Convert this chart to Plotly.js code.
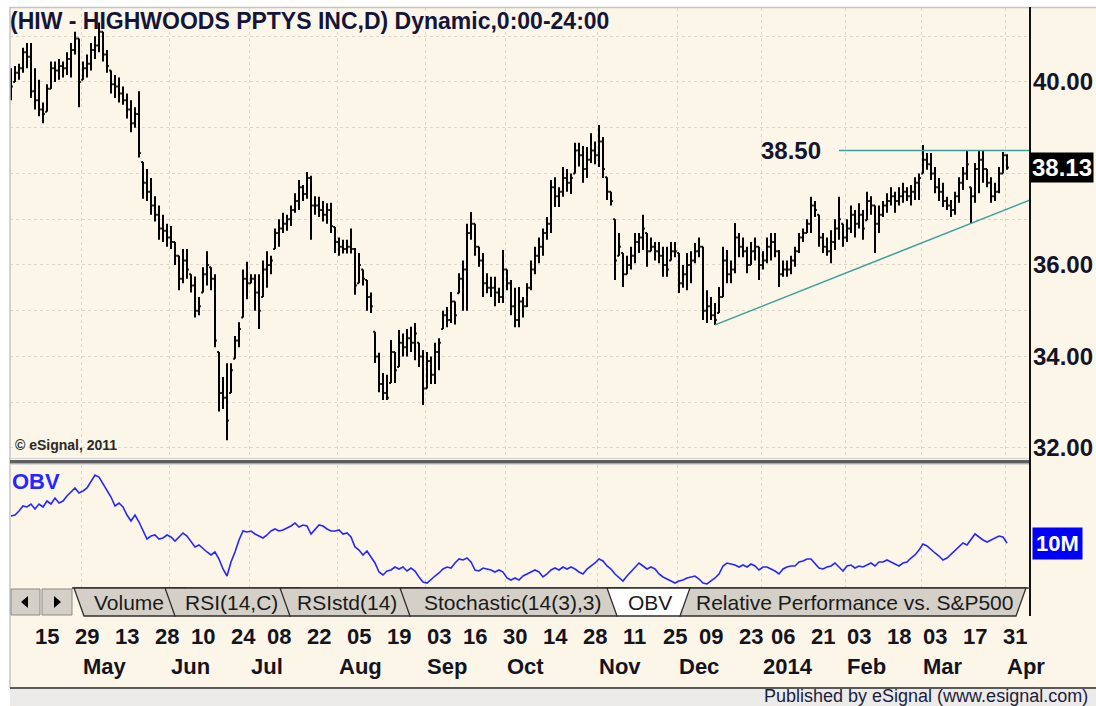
<!DOCTYPE html>
<html>
<head>
<meta charset="utf-8">
<script src="https://cdn.plot.ly/plotly-3.0.1.min.js"></script>
<style>html,body{margin:0;padding:0;background:#fff;}#chart{width:1096px;height:706px;}</style>
</head>
<body>
<div id="chart"></div>
<script>
// ---------------- DATA ----------------
const firstBarDate = '2013-04-05';
const holidays = ['2013-05-27','2013-07-04','2013-09-02','2013-11-28','2013-12-25','2014-01-01','2014-01-20','2014-02-17'];

const highs = [
40.30,40.35,40.40,40.75,40.85,40.85,40.30,40.05,39.55,39.95,
40.45,40.45,40.50,40.45,40.65,40.85,41.10,40.95,40.45,40.60,
40.85,41.00,41.30,41.10,40.70,40.25,40.15,40.10,39.90,39.75,
39.60,39.45,39.80,38.25,38.10,37.90,37.50,37.30,37.10,36.90,
36.85,36.50,36.20,36.35,36.35,35.80,35.75,35.30,35.95,36.30,
35.95,35.80,34.10,33.55,33.85,33.85,34.45,34.75,35.90,36.07,
35.80,35.80,35.80,36.10,36.30,36.20,36.80,37.00,37.14,37.10,
37.30,37.57,37.86,37.75,38.03,37.95,37.50,37.49,37.40,37.35,
37.36,36.83,36.60,36.55,36.55,36.80,36.37,36.26,35.90,35.67,
35.40,34.54,34.08,33.64,33.60,34.36,34.10,34.58,34.50,34.60,
34.65,34.73,34.30,34.14,34.10,34.00,34.30,34.40,35.00,35.08,
35.41,35.20,35.82,36.10,36.90,37.16,36.90,36.40,36.26,35.82,
35.74,35.74,35.50,36.33,35.90,35.67,35.50,35.52,35.30,35.60,
36.10,36.40,36.60,36.80,37.05,37.86,37.92,37.70,38.14,38.10,
38.00,38.67,38.67,38.60,38.58,38.88,38.70,39.06,38.80,37.92,
37.60,37.00,36.70,36.26,36.20,36.40,36.70,36.70,37.10,36.70,
36.60,36.50,36.50,36.40,36.40,36.50,36.50,36.26,36.00,36.26,
36.30,36.48,36.60,36.40,35.45,35.30,35.17,35.52,36.40,36.33,
36.10,36.92,36.70,36.60,36.40,36.50,36.60,36.40,36.30,36.60,
36.70,36.70,36.33,36.10,36.10,36.20,36.40,36.70,36.80,37.00,
37.49,37.40,37.10,36.70,36.60,36.76,37.00,37.49,36.90,37.00,
37.30,37.20,37.35,37.20,37.60,37.50,37.30,37.30,37.40,37.57,
37.70,37.60,37.70,37.80,37.70,37.75,37.92,38.00,38.62,38.45,
38.45,38.14,37.90,37.80,37.49,37.42,37.60,37.92,38.14,38.50,
37.70,38.23,38.50,38.50,38.10,37.92,37.80,38.14,38.47,38.42];

const lows = [
39.60,40.00,40.05,40.20,40.30,39.65,39.40,39.25,39.10,39.35,
39.85,40.00,40.05,40.10,40.15,40.10,40.60,39.45,40.05,40.10,
40.25,40.50,40.65,40.45,40.20,39.75,39.65,39.55,39.50,39.20,
38.90,39.00,38.35,37.45,37.40,37.10,36.95,36.55,36.50,36.40,
36.35,36.00,35.45,35.60,35.70,35.40,34.85,34.90,35.40,35.55,
35.45,34.20,32.80,32.85,32.17,33.20,33.95,34.20,34.85,35.25,
35.60,35.00,34.60,35.30,35.50,35.80,36.35,36.40,36.70,36.75,
36.85,37.14,37.20,37.40,37.45,36.55,37.10,37.05,36.95,36.90,
36.70,36.26,36.20,36.25,36.25,36.25,35.35,35.60,35.55,35.00,
34.95,33.86,33.22,33.05,33.05,33.42,33.42,33.77,34.00,34.00,
34.10,33.92,33.77,32.94,33.30,33.40,33.40,33.70,34.60,34.64,
34.73,34.70,35.38,35.00,35.00,36.55,36.20,35.96,35.30,35.38,
35.30,35.10,35.17,35.17,35.45,34.90,34.64,34.64,34.85,35.08,
35.45,35.80,36.04,36.20,36.55,36.70,37.27,37.27,37.49,37.60,
37.55,38.00,38.15,37.80,37.90,38.23,38.20,38.14,37.90,37.42,
37.30,35.67,36.20,35.52,35.80,35.90,36.04,36.26,36.33,35.96,
36.30,36.10,36.04,35.74,35.74,36.10,36.17,35.39,35.50,35.45,
35.60,36.04,36.17,34.80,34.73,34.80,34.69,34.95,35.30,35.60,
35.60,35.82,36.17,36.17,35.82,36.00,36.10,35.67,35.90,36.04,
36.10,36.17,35.52,35.74,35.74,35.80,35.96,36.26,36.50,36.70,
36.70,37.05,36.40,36.26,36.20,36.04,36.33,36.55,36.40,36.50,
36.70,36.60,36.80,36.55,36.98,37.10,36.26,36.70,37.05,37.14,
37.30,37.14,37.30,37.36,37.40,37.30,37.42,37.42,38.00,38.08,
37.86,37.57,37.40,37.27,37.20,37.05,37.10,37.36,37.64,37.86,
36.92,37.36,37.57,37.80,37.70,37.36,37.40,37.57,38.00,38.08];

const opens = [
40.10,40.00,40.20,40.30,40.65,40.55,39.80,39.60,39.40,39.35,
39.85,40.30,40.25,40.35,40.30,40.50,40.70,40.95,40.05,40.30,
40.40,40.70,40.80,41.10,40.60,40.25,39.95,39.90,39.75,39.60,
39.40,39.10,39.30,38.25,37.80,37.60,37.30,37.10,36.80,36.75,
36.60,36.50,36.20,35.70,36.10,35.80,35.55,35.00,35.40,35.80,
35.95,35.70,34.10,33.20,33.10,33.20,33.95,34.35,34.85,35.70,
35.60,35.70,35.40,35.30,35.90,36.00,36.35,36.70,36.80,36.90,
37.00,37.20,37.40,37.70,37.55,37.90,37.30,37.30,37.20,37.10,
37.20,36.83,36.50,36.40,36.35,36.40,36.35,35.60,35.90,35.67,
35.30,34.54,34.00,33.40,33.20,33.42,34.10,33.77,34.30,34.20,
34.40,34.30,34.30,34.00,33.30,33.90,33.60,34.10,34.60,34.90,
34.80,35.20,35.38,35.70,35.90,36.70,36.90,36.40,36.10,35.60,
35.50,35.50,35.40,35.30,35.90,35.60,35.10,34.80,35.20,35.10,
35.50,35.90,36.20,36.40,36.70,36.90,37.70,37.50,37.60,37.90,
37.80,38.00,38.50,38.40,38.10,38.30,38.50,38.40,38.70,37.92,
37.60,37.00,36.20,36.26,35.80,36.00,36.20,36.50,36.60,36.70,
36.30,36.40,36.30,36.20,36.00,36.10,36.30,36.26,35.60,35.80,
36.00,36.10,36.30,36.40,35.00,35.10,34.90,34.95,35.30,36.10,
35.80,35.90,36.60,36.40,36.30,36.00,36.30,36.40,36.00,36.10,
36.40,36.50,36.30,35.80,35.90,35.90,36.10,36.30,36.60,36.70,
36.90,37.30,37.10,36.60,36.40,36.30,36.50,36.80,36.90,36.60,
36.80,37.10,36.90,37.10,36.98,37.40,37.30,36.90,37.10,37.30,
37.40,37.50,37.40,37.50,37.60,37.50,37.60,37.80,38.00,38.30,
38.20,38.00,37.70,37.60,37.40,37.30,37.20,37.50,37.80,38.00,
37.70,37.50,38.10,38.30,38.10,37.80,37.50,37.60,38.00,38.40];

const closes = [
39.90,40.20,40.30,40.65,40.55,39.80,39.60,39.40,39.30,39.85,
40.30,40.25,40.35,40.30,40.50,40.70,40.95,40.00,40.30,40.40,
40.70,40.80,41.10,40.60,40.35,39.95,39.90,39.75,39.60,39.40,
39.10,39.30,38.45,37.80,37.60,37.30,37.10,36.80,36.75,36.60,
36.50,36.20,35.70,36.10,35.90,35.55,35.00,35.10,35.80,36.00,
35.70,34.35,33.20,33.10,32.60,33.70,34.35,34.60,35.70,35.60,
35.70,35.40,35.00,35.90,36.00,36.10,36.70,36.80,36.90,37.00,
37.20,37.40,37.70,37.55,37.90,37.30,37.30,37.20,37.10,37.20,
36.85,36.50,36.40,36.35,36.40,36.35,35.55,36.00,35.70,35.30,
35.10,34.00,33.40,33.20,33.10,34.10,33.70,34.30,34.20,34.40,
34.30,34.50,34.00,33.30,33.90,33.60,34.10,34.30,34.90,34.80,
35.20,34.90,35.70,35.90,36.70,36.90,36.40,36.10,35.60,35.50,
35.50,35.40,35.30,35.90,35.60,35.10,34.80,35.20,35.10,35.50,
35.90,36.20,36.40,36.70,36.90,37.70,37.50,37.60,37.90,37.80,
37.90,38.50,38.40,38.10,38.30,38.50,38.40,38.70,38.10,37.60,
37.40,36.10,36.40,35.80,36.00,36.20,36.50,36.60,36.80,36.30,
36.40,36.30,36.20,36.00,35.90,36.30,36.30,35.60,35.80,36.00,
36.10,36.30,36.40,35.00,35.10,34.90,34.80,35.30,36.10,35.80,
35.90,36.60,36.40,36.30,36.00,36.30,36.40,36.00,36.10,36.40,
36.50,36.30,35.80,35.90,35.90,36.10,36.30,36.60,36.70,36.90,
37.30,37.20,36.60,36.40,36.30,36.50,36.80,37.00,36.60,36.80,
37.10,36.90,37.10,36.80,37.40,37.30,36.90,37.10,37.30,37.40,
37.50,37.40,37.50,37.60,37.50,37.60,37.80,37.90,38.30,38.20,
38.00,37.70,37.60,37.40,37.30,37.20,37.50,37.80,38.00,38.20,
37.50,38.10,38.30,38.10,37.80,37.50,37.60,38.00,38.40,38.13];

// On Balance Volume, millions
const obv = [
12.8,12.9,13.3,13.8,13.7,14.0,13.5,14.0,13.7,14.3,
14.0,14.6,14.1,14.3,14.8,15.2,15.6,15.1,15.3,15.6,
16.2,16.9,16.7,16.0,15.4,14.7,13.8,14.1,13.7,12.9,
12.3,12.9,12.2,11.3,10.5,10.8,10.9,10.5,10.6,10.9,
10.7,10.3,10.7,11.1,10.8,10.3,9.7,9.9,9.5,9.2,
8.9,9.2,8.5,7.5,6.8,8.2,9.2,10.4,11.3,11.2,
11.3,11.0,10.8,10.6,10.9,11.3,11.5,11.3,11.4,11.6,
11.8,12.1,11.7,11.9,11.8,11.0,11.4,11.9,11.8,11.5,
11.3,11.3,11.4,11.0,11.1,10.7,9.7,9.4,8.9,9.3,
8.7,8.1,7.2,6.9,7.3,7.4,7.7,7.5,7.7,7.3,
7.6,7.3,6.7,6.2,6.1,6.5,6.8,7.1,7.5,7.7,
7.6,8.1,8.5,8.4,8.6,8.2,7.4,7.3,7.6,7.5,
7.4,7.2,7.4,7.2,6.6,6.4,6.6,6.4,6.8,7.0,
7.2,7.4,7.2,6.7,7.0,7.4,7.6,7.4,7.7,7.5,
7.7,7.5,7.2,7.0,7.5,7.8,8.1,8.5,8.3,7.8,
7.5,7.0,6.6,6.3,6.8,7.2,7.7,8.1,7.8,7.5,
7.7,7.5,7.0,6.7,6.5,6.3,6.1,6.3,6.4,6.6,
6.7,6.8,6.5,6.1,6.0,6.3,6.6,7.0,7.8,8.1,
8.0,7.9,7.7,7.9,7.7,8.0,7.8,7.4,7.7,7.7,
7.5,7.3,7.0,7.5,7.7,7.8,7.8,8.2,8.3,8.5,
8.5,8.0,7.6,7.5,7.7,7.8,8.1,7.7,7.3,7.8,
7.9,7.6,7.8,7.7,7.9,8.1,7.8,8.2,8.2,8.4,
8.2,8.0,7.8,8.1,8.2,8.6,8.9,9.4,10.0,9.8,
9.4,9.1,8.8,8.4,8.6,9.0,9.4,9.8,10.1,9.9,
10.5,11.0,10.7,10.4,10.2,10.4,10.6,10.8,10.7,10.1];

// drawn lines: resistance level and rising support trendline
const resistanceLevel = 38.50;
const resistanceDates = ['2014-01-30', '2014-04-09'];
const trendDates = ['2013-12-13', '2014-04-09'];
const trendPrices = [34.69, 37.43];

// axis labels
const priceTicks = [32, 34, 36, 40];
const dayTickDates = ['2013-04-15','2013-04-29','2013-05-13','2013-05-28','2013-06-10','2013-06-24','2013-07-08','2013-07-22','2013-08-05','2013-08-19','2013-09-03','2013-09-16','2013-09-30','2013-10-14','2013-10-28','2013-11-11','2013-11-25','2013-12-09','2013-12-23','2014-01-06','2014-01-21','2014-02-03','2014-02-18','2014-03-03','2014-03-17','2014-03-31'];
const monthKeys = ['2013-05','2013-06','2013-07','2013-08','2013-09','2013-10','2013-11','2013-12','2014-01','2014-02','2014-03','2014-04'];
const monthLabels = ['May','Jun','Jul','Aug','Sep','Oct','Nov','Dec','2014','Feb','Mar','Apr'];
const tabLabels = ['Volume','RSI(14,C)','RSIstd(14)','Stochastic(14(3),3)','OBV','Relative Performance vs. S&P500'];
const titleText = '(HIW - HIGHWOODS PPTYS INC,D) Dynamic,0:00-24:00';

// ---------------- calendar of trading days ----------------
function tradingDays(start, end, hol) {
  const out = []; const d = new Date(start + 'T00:00:00Z'); const e = new Date(end + 'T00:00:00Z');
  while (d <= e) { const wd = d.getUTCDay(); const s = d.toISOString().slice(0, 10);
    if (wd !== 0 && wd !== 6 && hol.indexOf(s) < 0) out.push(s); d.setUTCDate(d.getUTCDate() + 1); }
  return out;
}
const days = tradingDays('2013-04-03', '2014-04-30', holidays);
const idx = s => days.indexOf(s);
const i0 = idx(firstBarDate);
const xs = closes.map((_, k) => i0 + k);
const monthBounds = monthKeys.map(k => days.findIndex(d => d.startsWith(k)) - 0.5);

// ---------------- layout helpers ----------------
const W = 1096, H = 706;
const fx = x => x / W, fy = y => 1 - y / H;
const FONT = 'Liberation Sans, Arial, Helvetica, sans-serif';
const CREAM = '#FCF6E9';
const GRID = '#DED7C9';
const TEAL = '#3E9E9E';
const BLUE = '#2626FF';
const P = (x, y) => fx(x).toFixed(5) + ',' + fy(y).toFixed(5);

const shapes = [];
function rectPx(x0, y0, x1, y1, fill, lineColor, lw, layer) {
  shapes.push({type: 'rect', xref: 'paper', yref: 'paper', x0: fx(x0), x1: fx(x1), y0: fy(y1), y1: fy(y0),
    fillcolor: fill, line: {color: lineColor || 'rgba(0,0,0,0)', width: lw || 0}, layer: layer || 'above'});
}
function linePx(x0, y0, x1, y1, color, lw) {
  shapes.push({type: 'line', xref: 'paper', yref: 'paper', x0: fx(x0), x1: fx(x1), y0: fy(y0), y1: fy(y1),
    line: {color: color, width: lw}, layer: 'above'});
}
function pathPx(pts, fill, lineColor, lw) {
  shapes.push({type: 'path', xref: 'paper', yref: 'paper', path: 'M ' + pts.map(p => P(p[0], p[1])).join(' L ') + ' Z',
    fillcolor: fill, line: {color: lineColor || 'rgba(0,0,0,0)', width: lw || 0}, layer: 'above'});
}

// frame: white margins, borders, footer
rectPx(0, 0, 10, 706, '#FFFFFF');
rectPx(0, 0, 1096, 7, '#FFFFFF');
linePx(10, 7.5, 1096, 7.5, '#C4C4C4', 1.5);
linePx(10, 7, 10, 688, '#C4C4C4', 1.5);
rectPx(10, 688, 1096, 706, '#ECEBEA');
linePx(10, 688, 1096, 688, '#5A5A5A', 2);
// panel splitter
linePx(10, 458.5, 1030, 458.5, '#D0D0D0', 1);
rectPx(10, 460, 1030, 463.5, '#5E5E5E');
linePx(10, 464.5, 1030, 464.5, '#D8D8D8', 1);
// right axis line
linePx(1030, 7, 1030, 616, '#111111', 2);

// tab bar
rectPx(11, 589, 40, 615, '#D4D0C8', '#8A8A8A', 1);
rectPx(42, 589, 72, 615, '#D4D0C8', '#8A8A8A', 1);
pathPx([[21, 602], [28, 596], [28, 608]], '#000000');
pathPx([[61, 602], [54, 596], [54, 608]], '#000000');
linePx(72, 588, 1030, 588, '#3A3A3A', 1.5);
const tabGeom = [[74, 185], [165, 300], [280, 420], [400, 627], null, [670, 1026]];
const tabTextX = [129, 231, 347, 512, 650, 854];
tabGeom.forEach(g => { if (g) pathPx([[g[0], 588], [g[1], 588], [g[1] - 10, 616], [g[0] + 10, 616]], '#D4D0C8', '#2E2E2E', 1.3); });
pathPx([[607, 588], [690, 588], [680, 616], [617, 616]], '#FFFFFF', '#2E2E2E', 1.3);

// ---------------- annotations ----------------
const ann = [];
function textPx(x, y, text, size, opts) {
  ann.push(Object.assign({xref: 'paper', yref: 'paper', x: fx(x), y: fy(y), text: text, showarrow: false,
    xanchor: 'left', yanchor: 'middle', font: {family: FONT, size: size, color: '#151530'}}, opts || {}));
}
// date axis labels: day row (left aligned at the trading day) and month row (at month boundary)
dayTickDates.forEach(d => ann.push({xref: 'x', yref: 'paper', x: idx(d), y: fy(636), text: d.slice(8, 10), showarrow: false,
  xanchor: 'left', yanchor: 'middle', xshift: -2, font: {family: FONT, size: 22, weight: 'bold', color: '#141420'}}));
monthLabels.forEach((m, k) => ann.push({xref: 'x', yref: 'paper', x: monthBounds[k], y: fy(666), text: m, showarrow: false,
  xanchor: 'left', yanchor: 'middle', font: {family: FONT, size: 22, weight: 'bold', color: '#141420'}}));
// tab labels
tabLabels.forEach((t, k) => textPx(tabTextX[k], 602, t, 21, {xanchor: 'center', font: {family: FONT, size: 21, color: '#1a1a1a'}}));
// panel texts
textPx(13, 445, '\u00A9 eSignal, 2011', 14, {font: {family: FONT, size: 14, weight: 'bold', color: '#2a2a2a'}});
textPx(10, 482, 'OBV', 22, {font: {family: FONT, size: 22, weight: 'bold', color: BLUE}});
textPx(1090, 696, 'Published by eSignal (www.esignal.com)', 18, {xanchor: 'right', font: {family: FONT, size: 18, color: '#1c1c3c'}});
// last price box
const lastClose = closes[closes.length - 1];
ann.push({xref: 'paper', yref: 'y', x: fx(1030), y: lastClose, text: lastClose.toFixed(2), showarrow: false,
  xanchor: 'left', yanchor: 'middle', bgcolor: '#000000', borderpad: 1,
  font: {family: FONT, size: 24, weight: 'bold', color: '#FFFFFF'}});
// last OBV box
const lastObv = obv[obv.length - 1];
ann.push({xref: 'paper', yref: 'y2', x: fx(1032), y: lastObv, text: Math.round(lastObv) + 'M', showarrow: false,
  xanchor: 'left', yanchor: 'middle', bgcolor: '#0000FF', borderpad: 3,
  font: {family: FONT, size: 22, weight: 'bold', color: '#FFFFFF'}});
// resistance label
ann.push({xref: 'x', yref: 'y', x: idx(resistanceDates[0]), y: resistanceLevel, text: resistanceLevel.toFixed(2), showarrow: false,
  xanchor: 'right', yanchor: 'middle', xshift: -16, font: {family: FONT, size: 24, weight: 'bold', color: '#151530'}});

// ---------------- traces ----------------
const traces = [
  {type: 'ohlc', x: xs, open: opens, high: highs, low: lows, close: closes, xaxis: 'x', yaxis: 'y',
   increasing: {line: {color: '#000000', width: 2}}, decreasing: {line: {color: '#000000', width: 2}},
   tickwidth: 0.45, hoverinfo: 'skip', showlegend: false},
  {type: 'scatter', mode: 'lines', x: resistanceDates.map(idx), y: [resistanceLevel, resistanceLevel], xaxis: 'x', yaxis: 'y',
   line: {color: TEAL, width: 1.5}, hoverinfo: 'skip'},
  {type: 'scatter', mode: 'lines', x: trendDates.map(idx), y: trendPrices, xaxis: 'x', yaxis: 'y',
   line: {color: TEAL, width: 1.5}, hoverinfo: 'skip'},
  {type: 'scatter', mode: 'lines', x: xs, y: obv, xaxis: 'x2', yaxis: 'y2',
   line: {color: BLUE, width: 1.6}, hoverinfo: 'skip'}
];

const xCommon = {range: [1.75, 256.75], domain: [fx(10), fx(1030)], tickmode: 'array', tickvals: monthBounds,
  showticklabels: false, ticks: '', showgrid: true, gridcolor: GRID, griddash: 'dot', gridwidth: 1,
  zeroline: false, showline: false, fixedrange: true, rangeslider: {visible: false}};

const layout = {
  width: W, height: H, margin: {l: 0, r: 0, t: 0, b: 0, pad: 0},
  paper_bgcolor: CREAM, plot_bgcolor: 'rgba(0,0,0,0)', showlegend: false,
  font: {family: FONT},
  title: {text: titleText, x: fx(10), xanchor: 'left', xref: 'paper', y: fy(21), yanchor: 'middle', yref: 'paper',
    font: {family: FONT, size: 23, weight: 'bold', color: '#15153A'}},
  xaxis: Object.assign({}, xCommon, {anchor: 'y'}),
  xaxis2: Object.assign({}, xCommon, {anchor: 'y2', matches: 'x'}),
  yaxis: {domain: [fy(458), fy(8)], range: [31.781, 41.617], side: 'right', anchor: 'x',
    tickmode: 'array', tickvals: priceTicks, tickformat: '.2f', ticks: '', ticklabelstandoff: 2,
    tickfont: {family: FONT, size: 24, weight: 'bold', color: '#141428'},
    showgrid: true, gridcolor: GRID, griddash: 'dot', gridwidth: 1,
    minor: {tickmode: 'linear', tick0: 31, dtick: 1, showgrid: true, gridcolor: GRID, griddash: 'dot', gridwidth: 1, ticks: ''},
    zeroline: false, showline: false, fixedrange: true},
  yaxis2: {domain: [fy(587), fy(465)], range: [5.7, 17.9], anchor: 'x2', showticklabels: false, ticks: '',
    showgrid: false, zeroline: false, showline: false, fixedrange: true},
  shapes: shapes,
  annotations: ann
};

Plotly.newPlot('chart', traces, layout, {displayModeBar: false, staticPlot: true});
</script>
</body>
</html>
